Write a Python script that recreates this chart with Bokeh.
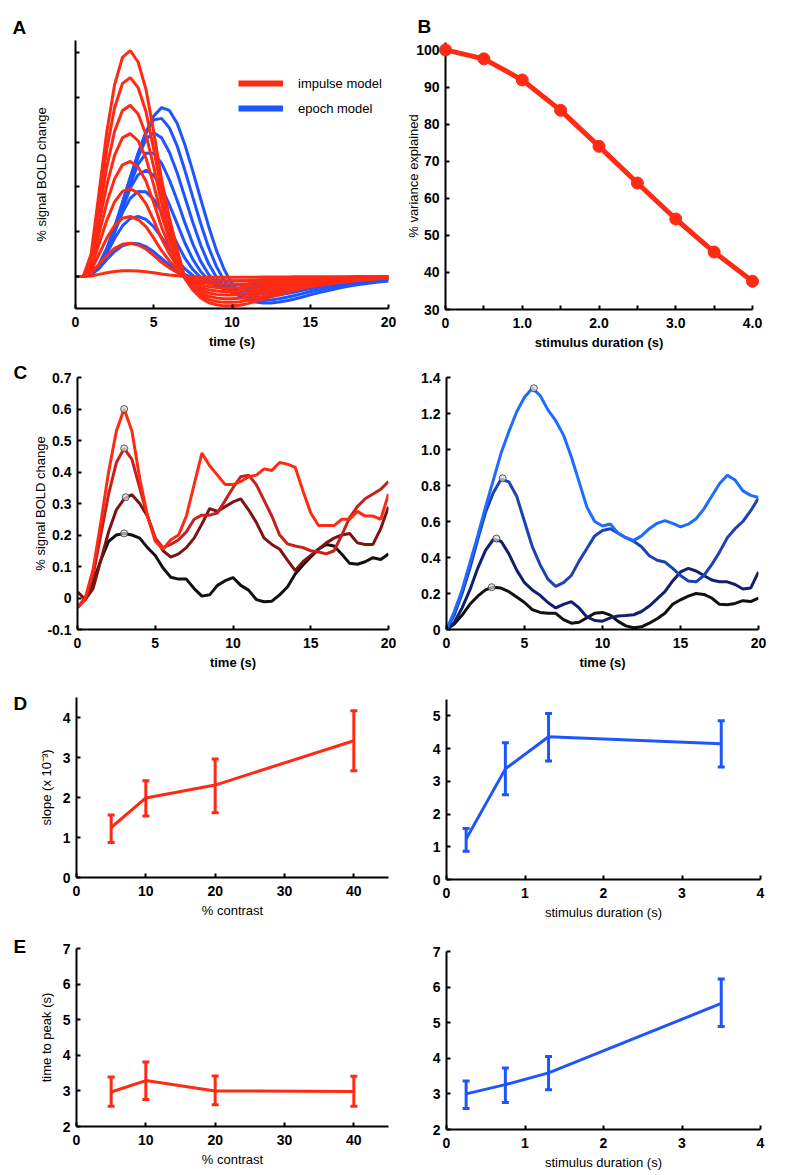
from bokeh.plotting import figure
from bokeh.layouts import column, row
from bokeh.models import (FixedTicker, Range1d, Legend, LegendItem,
                          Whisker, TeeHead, ColumnDataSource)
from bokeh.core.properties import value
from bokeh.embed import file_html
from bokeh.resources import INLINE

FONT = "Liberation Sans"

# ------------------------------------------------------------------ data
time_s = [0.0, 0.5, 1.0, 1.5, 2.0, 2.5, 3.0, 3.5, 4.0, 4.5, 5.0, 5.5, 6.0, 6.5,
          7.0, 7.5, 8.0, 8.5, 9.0, 9.5, 10.0, 10.5, 11.0, 11.5, 12.0, 12.5,
          13.0, 13.5, 14.0, 14.5, 15.0, 15.5, 16.0, 16.5, 17.0, 17.5, 18.0,
          18.5, 19.0, 19.5, 20.0]

# Panel A: response shape (peak = 1)
hrf_shape = [0.0, 0.0, 0.1, 0.37, 0.64, 0.85, 0.97, 1.0, 0.95, 0.83, 0.64,
             0.43, 0.26, 0.12, -0.01, -0.06, -0.095, -0.115, -0.125, -0.13,
             -0.13, -0.127, -0.12, -0.11, -0.1, -0.09, -0.08, -0.07, -0.06,
             -0.052, -0.045, -0.04, -0.035, -0.03, -0.026, -0.022, -0.018,
             -0.015, -0.012, -0.009, -0.006]
impulse_amplitudes = [0.13, 0.74, 1.34, 1.96, 2.57, 3.19, 3.82, 4.44, 5.04]
epoch_durations = [0.5, 1.0, 1.5, 2.0, 2.5, 3.0, 3.5, 4.0]
epoch_peaks = [0.74, 1.34, 1.90, 2.37, 2.75, 3.21, 3.53, 3.77]
legend_labels = ["impulse model", "epoch model"]
a_xticks = [0, 5, 10, 15, 20]
a_yticks = [0, 1, 2, 3, 4, 5]

# Panel B
b_duration = [0.0, 0.5, 1.0, 1.5, 2.0, 2.5, 3.0, 3.5, 4.0]
b_variance = [100.0, 97.6, 91.9, 83.7, 74.0, 64.1, 54.4, 45.5, 37.6]
b_xticks = [0, 1, 2, 3, 4]
b_xlabels = ["0", "1.0", "2.0", "3.0", "4.0"]
b_xminor = [0.5, 1.5, 2.5, 3.5]
b_yticks = [30, 40, 50, 60, 70, 80, 90, 100]

# Panel C left (contrast series, brightest = highest contrast)
c_red_bright = [-0.03, 0.0, 0.09, 0.24, 0.40, 0.53, 0.60, 0.53, 0.38, 0.26,
                0.18, 0.155, 0.185, 0.20, 0.26, 0.36, 0.46, 0.42, 0.39, 0.36,
                0.36, 0.37, 0.385, 0.39, 0.41, 0.405, 0.43, 0.425, 0.415,
                0.34, 0.27, 0.23, 0.23, 0.23, 0.25, 0.25, 0.275, 0.26, 0.26,
                0.25, 0.33]
c_red_dark = [-0.03, -0.005, 0.07, 0.20, 0.33, 0.43, 0.475, 0.44, 0.35, 0.26,
              0.19, 0.16, 0.17, 0.185, 0.21, 0.25, 0.263, 0.263, 0.27, 0.31,
              0.35, 0.385, 0.39, 0.36, 0.31, 0.26, 0.20, 0.172, 0.165, 0.16,
              0.15, 0.146, 0.14, 0.15, 0.20, 0.255, 0.29, 0.315, 0.33, 0.345,
              0.37]
c_red_maroon = [0.02, -0.005, 0.03, 0.12, 0.21, 0.28, 0.315, 0.328, 0.30,
                0.26, 0.19, 0.15, 0.13, 0.14, 0.16, 0.19, 0.235, 0.284, 0.275,
                0.29, 0.305, 0.315, 0.28, 0.24, 0.19, 0.17, 0.155, 0.12,
                0.087, 0.115, 0.135, 0.155, 0.175, 0.19, 0.20, 0.205, 0.175,
                0.17, 0.17, 0.22, 0.29]
c_red_black = [-0.03, 0.0, 0.05, 0.12, 0.18, 0.20, 0.205, 0.20, 0.19, 0.16,
               0.135, 0.095, 0.066, 0.06, 0.06, 0.03, 0.006, 0.01, 0.04,
               0.055, 0.065, 0.04, 0.025, -0.005, -0.012, -0.01, 0.01, 0.035,
               0.076, 0.105, 0.13, 0.155, 0.17, 0.165, 0.139, 0.11, 0.107,
               0.115, 0.128, 0.122, 0.14]
c_left_peak_t = [3.0, 3.0, 3.1, 3.0]
c_left_peak_v = [0.60, 0.475, 0.32, 0.205]
c_left_yticks = [-0.1, 0.0, 0.1, 0.2, 0.3, 0.4, 0.5, 0.6, 0.7]
c_left_ylabels = ["-0.1", "0", "0.1", "0.2", "0.3", "0.4", "0.5", "0.6", "0.7"]

# Panel C right (duration series, brightest = longest)
c_blue_bright = [0.0, 0.10, 0.22, 0.37, 0.52, 0.68, 0.83, 0.98, 1.10, 1.21,
                 1.29, 1.34, 1.30, 1.22, 1.16, 1.08, 0.96, 0.82, 0.68, 0.60,
                 0.575, 0.586, 0.535, 0.51, 0.495, 0.52, 0.56, 0.59, 0.605,
                 0.59, 0.57, 0.585, 0.615, 0.67, 0.74, 0.81, 0.857, 0.83,
                 0.77, 0.745, 0.733]
c_blue_mid = [0.0, 0.08, 0.20, 0.34, 0.50, 0.65, 0.76, 0.835, 0.82, 0.74,
              0.60, 0.46, 0.36, 0.28, 0.24, 0.26, 0.30, 0.38, 0.45, 0.52,
              0.55, 0.56, 0.535, 0.51, 0.49, 0.46, 0.41, 0.385, 0.375, 0.34,
              0.30, 0.27, 0.265, 0.30, 0.36, 0.43, 0.51, 0.56, 0.60, 0.66,
              0.73]
c_blue_navy = [0.0, 0.04, 0.12, 0.22, 0.34, 0.44, 0.50, 0.49, 0.42, 0.33,
               0.26, 0.22, 0.19, 0.15, 0.12, 0.14, 0.155, 0.12, 0.07, 0.05,
               0.046, 0.065, 0.075, 0.078, 0.082, 0.10, 0.13, 0.17, 0.21,
               0.27, 0.32, 0.34, 0.325, 0.30, 0.275, 0.265, 0.265, 0.25,
               0.225, 0.23, 0.32]
c_blue_black = [0.0, 0.03, 0.08, 0.14, 0.185, 0.22, 0.235, 0.23, 0.21, 0.18,
                0.15, 0.11, 0.095, 0.09, 0.09, 0.055, 0.035, 0.04, 0.065,
                0.09, 0.095, 0.08, 0.045, 0.02, 0.01, 0.015, 0.035, 0.06,
                0.09, 0.14, 0.165, 0.185, 0.20, 0.195, 0.175, 0.14, 0.138,
                0.145, 0.16, 0.155, 0.175]
c_right_peak_t = [5.6, 3.6, 3.2, 2.9]
c_right_peak_v = [1.34, 0.84, 0.505, 0.235]
c_right_yticks = [0.0, 0.2, 0.4, 0.6, 0.8, 1.0, 1.2, 1.4]
c_right_ylabels = ["0", "0.2", "0.4", "0.6", "0.8", "1.0", "1.2", "1.4"]

# Panels D / E
contrast = [5, 10, 20, 40]
durations = [0.25, 0.75, 1.3, 3.5]
d_left_mean = [1.25, 1.99, 2.31, 3.42]
d_left_up = [1.56, 2.42, 2.96, 4.17]
d_left_lo = [0.875, 1.54, 1.62, 2.67]
d_right_mean = [1.24, 3.38, 4.36, 4.15]
d_right_up = [1.56, 4.18, 5.07, 4.85]
d_right_lo = [0.86, 2.59, 3.62, 3.44]
e_left_mean = [2.97, 3.29, 3.00, 2.98]
e_left_up = [3.39, 3.81, 3.42, 3.41]
e_left_lo = [2.57, 2.76, 2.61, 2.57]
e_right_mean = [3.00, 3.26, 3.59, 5.54]
e_right_up = [3.36, 3.73, 4.05, 6.23]
e_right_lo = [2.59, 2.76, 3.12, 4.89]

panel_letters = ["A", "B", "C", "D", "E"]

RED = "#ff2a14"
BLUE = "#1f55ff"
C_LEFT_COLORS = ["#111111", "#7c1412", "#c8201c", "#ff2a14"]
C_RIGHT_COLORS = ["#111111", "#121f6e", "#1c42b4", "#1e6cff"]


# ------------------------------------------------------------------ helpers
def make_fig(width, height, left, right, top, bottom, xr, yr):
    p = figure(width=width, height=height,
               x_range=Range1d(*xr), y_range=Range1d(*yr),
               toolbar_location=None, output_backend="svg",
               min_border_left=left, min_border_right=right,
               min_border_top=top, min_border_bottom=bottom,
               frame_align=False)
    p.outline_line_color = None
    p.grid.visible = False
    p.background_fill_color = "white"
    p.border_fill_color = "white"
    for ax in (p.xaxis[0], p.yaxis[0]):
        ax.axis_line_width = 2
        ax.axis_line_color = "black"
        ax.major_tick_in = 4
        ax.major_tick_out = 0
        ax.major_tick_line_width = 2
        ax.major_tick_line_color = "black"
        ax.minor_tick_line_color = None
        ax.major_label_text_font = FONT
        ax.major_label_text_font_style = "bold"
        ax.major_label_text_font_size = "14px"
        ax.major_label_text_color = "black"
        ax.axis_label_text_font = FONT
        ax.axis_label_text_font_size = "13px"
        ax.axis_label_text_font_style = "normal"
        ax.axis_label_text_color = "black"
    p.xaxis.major_label_standoff = 8
    p.xaxis.axis_label_standoff = 4
    p.yaxis.major_label_standoff = 6
    return p


def letter_fig(width, height, txt, x, y):
    # a plain canvas whose data units are pixels (y measured from the top)
    p = figure(width=width, height=height, x_range=Range1d(0, width),
               y_range=Range1d(height, 0), toolbar_location=None,
               output_backend="svg", min_border=0, min_border_left=0,
               min_border_right=0, min_border_top=0, min_border_bottom=0,
               x_axis_location=None, y_axis_location=None, frame_align=False)
    p.outline_line_color = None
    p.grid.visible = False
    p.background_fill_color = "white"
    p.border_fill_color = "white"
    p.text(x=[x], y=[y], text=[txt], text_font=value(FONT),
           text_font_size=value("19px"), text_font_style="bold",
           text_baseline="alphabetic", text_align="left", text_color="black")
    return p


def errorbar_panel(p, xs, mean, lo, up, color):
    p.line(xs, mean, line_color=color, line_width=3)
    src = ColumnDataSource(dict(x=xs, lower=lo, upper=up))
    p.add_layout(Whisker(source=src, base="x", lower="lower", upper="upper",
                         line_color=color, line_width=3,
                         upper_head=TeeHead(size=7, line_color=color, line_width=3),
                         lower_head=TeeHead(size=7, line_color=color, line_width=3)))


# ------------------------------------------------------------------ panel A
pA = make_fig(366, 352, 45, 8, 40, 44, (0, 20), (-0.714, 5.268))
pA.xaxis.ticker = FixedTicker(ticks=a_xticks)
pA.yaxis.ticker = FixedTicker(ticks=a_yticks)
pA.yaxis.major_label_overrides = {t: "" for t in a_yticks}
pA.xaxis.axis_label = "time (s)"
pA.xaxis.axis_label_text_font_style = "bold"
pA.yaxis.axis_label = "% signal BOLD change"
pA.yaxis.axis_label_standoff = 27

for d, amp in zip(epoch_durations, epoch_peaks):
    n = int(round(d / 0.5)) + 1
    s = [sum(hrf_shape[i - k] for k in range(n) if i - k >= 0)
         for i in range(len(hrf_shape))]
    m = max(s)
    pA.line(time_s, [amp * v / m for v in s], line_color=BLUE, line_width=3)
for amp in impulse_amplitudes:
    pA.line(time_s, [amp * v for v in hrf_shape], line_color=RED, line_width=3)

nan = float("nan")
lr = pA.line([nan], [nan], line_color=RED, line_width=6)
lb = pA.line([nan], [nan], line_color=BLUE, line_width=6)
leg = Legend(items=[LegendItem(label=legend_labels[0], renderers=[lr]),
                    LegendItem(label=legend_labels[1], renderers=[lb])],
             location=(163, 189), glyph_width=45, glyph_height=22,
             label_height=22, spacing=3, padding=0, margin=0,
             label_standoff=15, border_line_color=None,
             background_fill_alpha=0, label_text_font=FONT,
             label_text_font_size="13px", label_text_color="black")
pA.add_layout(leg)
LA = letter_fig(30, 352, panel_letters[0], 12, 27)

# ------------------------------------------------------------------ panel B
pB = make_fig(389, 314, 49, 33, 4, 43, (0, 4), (30, 102))
pB.xaxis.ticker = FixedTicker(ticks=b_xticks, minor_ticks=b_xminor)
pB.xaxis.major_label_overrides = dict(zip(b_xticks, b_xlabels))
pB.xaxis.minor_tick_line_color = "black"
pB.xaxis.minor_tick_line_width = 2
pB.xaxis.minor_tick_in = 4
pB.xaxis.minor_tick_out = 0
pB.yaxis.ticker = FixedTicker(ticks=b_yticks)
pB.xaxis.axis_label = "stimulus duration (s)"
pB.xaxis.axis_label_text_font_style = "bold"
pB.yaxis.axis_label = "% variance explained"
pB.yaxis.axis_label_standoff = -8
pB.line(b_duration, b_variance, line_color=RED, line_width=5)
sc = pB.scatter(b_duration, b_variance, size=12, fill_color=RED, line_color=RED)
sc.level = "overlay"
LB = letter_fig(389, 38, panel_letters[1], 21, 26)

# ------------------------------------------------------------------ panel C
pC1 = make_fig(366, 320, 46, 8, 25, 39, (0, 20), (-0.1, 0.7))
pC1.xaxis.ticker = FixedTicker(ticks=a_xticks)
pC1.yaxis.ticker = FixedTicker(ticks=c_left_yticks)
pC1.yaxis.major_label_overrides = dict(zip(c_left_yticks, c_left_ylabels))
pC1.xaxis.axis_label = "time (s)"
pC1.xaxis.axis_label_text_font_style = "bold"
pC1.yaxis.axis_label = "% signal BOLD change"
pC1.yaxis.axis_label_standoff = -4
for ys, col in zip([c_red_black, c_red_maroon, c_red_dark, c_red_bright],
                   C_LEFT_COLORS):
    pC1.line(time_s, ys, line_color=col, line_width=3)
pC1.scatter(c_left_peak_t, c_left_peak_v, size=7, fill_color="#d8d8d8",
            fill_alpha=0.7, line_color="#333333", line_width=0.8)
LC = letter_fig(30, 320, panel_letters[2], 13, 20)

pC2 = make_fig(389, 320, 50, 27, 25, 40, (0, 20), (0, 1.4))
pC2.xaxis.ticker = FixedTicker(ticks=a_xticks)
pC2.yaxis.ticker = FixedTicker(ticks=c_right_yticks)
pC2.yaxis.major_label_overrides = dict(zip(c_right_yticks, c_right_ylabels))
pC2.xaxis.axis_label = "time (s)"
pC2.xaxis.axis_label_text_font_style = "bold"
for ys, col in zip([c_blue_black, c_blue_navy, c_blue_mid, c_blue_bright],
                   C_RIGHT_COLORS):
    pC2.line(time_s, ys, line_color=col, line_width=3)
pC2.scatter(c_right_peak_t, c_right_peak_v, size=7, fill_color="#d8d8d8",
            fill_alpha=0.7, line_color="#333333", line_width=0.8)

# ------------------------------------------------------------------ panel D
pD1 = make_fig(366, 256, 46, 8, 25, 51, (0, 45), (0, 4.5))
pD1.xaxis.ticker = FixedTicker(ticks=[0, 10, 20, 30, 40])
pD1.yaxis.ticker = FixedTicker(ticks=[0, 1, 2, 3, 4])
pD1.xaxis.axis_label = "% contrast"
pD1.yaxis.axis_label = "slope (x 10\u207b\u00b3)"
pD1.yaxis.axis_label_standoff = 6
errorbar_panel(pD1, contrast, d_left_mean, d_left_lo, d_left_up, RED)
LD = letter_fig(30, 256, panel_letters[3], 13, 31)

pD2 = make_fig(389, 256, 50, 25, 27, 49, (0, 4), (0, 5.5))
pD2.xaxis.ticker = FixedTicker(ticks=[0, 1, 2, 3, 4])
pD2.yaxis.ticker = FixedTicker(ticks=[0, 1, 2, 3, 4, 5])
pD2.xaxis.axis_label = "stimulus duration (s)"
errorbar_panel(pD2, durations, d_right_mean, d_right_lo, d_right_up, BLUE)

# ------------------------------------------------------------------ panel E
pE1 = make_fig(366, 247, 46, 8, 20, 49, (0, 45), (2, 7))
pE1.xaxis.ticker = FixedTicker(ticks=[0, 10, 20, 30, 40])
pE1.yaxis.ticker = FixedTicker(ticks=[2, 3, 4, 5, 6, 7])
pE1.xaxis.axis_label = "% contrast"
pE1.yaxis.axis_label = "time to peak (s)"
pE1.yaxis.axis_label_standoff = 6
errorbar_panel(pE1, contrast, e_left_mean, e_left_lo, e_left_up, RED)
LE = letter_fig(30, 247, panel_letters[4], 13, 18)

pE2 = make_fig(389, 247, 50, 25, 23, 46, (0, 4), (2, 7))
pE2.xaxis.ticker = FixedTicker(ticks=[0, 1, 2, 3, 4])
pE2.yaxis.ticker = FixedTicker(ticks=[2, 3, 4, 5, 6, 7])
pE2.xaxis.axis_label = "stimulus duration (s)"
errorbar_panel(pE2, durations, e_right_mean, e_right_lo, e_right_up, BLUE)

layout = column(row(LA, pA, column(LB, pB)),
                row(LC, pC1, pC2),
                row(LD, pD1, pD2),
                row(LE, pE1, pE2))

open("out.html", "w").write(file_html(layout, INLINE))
